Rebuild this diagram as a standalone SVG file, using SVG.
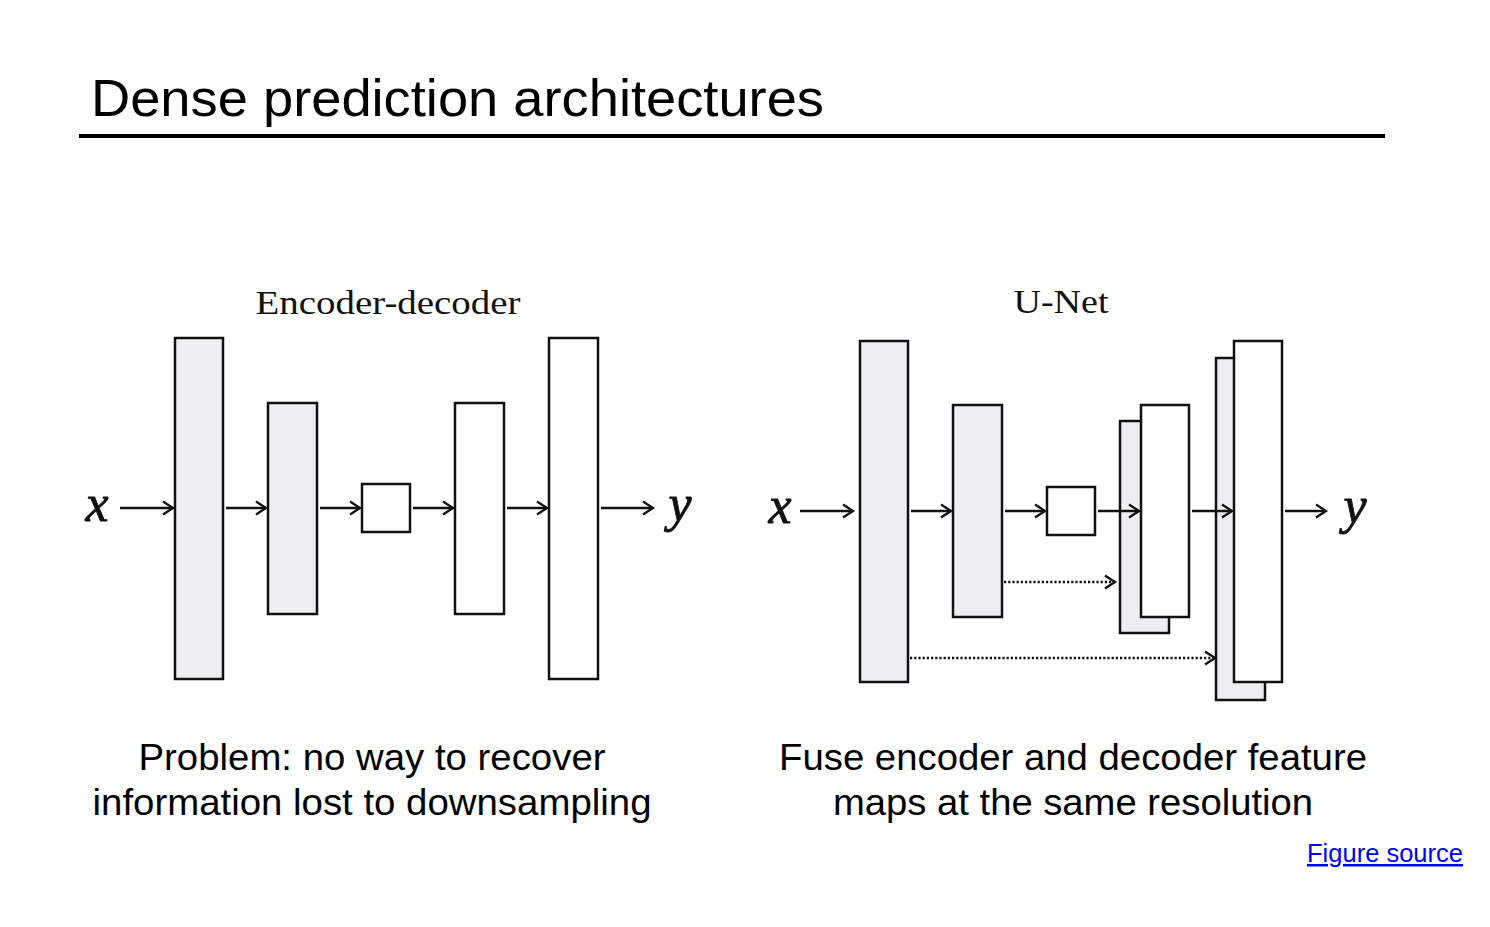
<svg xmlns="http://www.w3.org/2000/svg" width="1490" height="927" viewBox="0 0 1490 927">
<defs>
<marker id="ah" markerWidth="16" markerHeight="16" refX="13" refY="8" orient="auto" markerUnits="userSpaceOnUse">
<path d="M3,1.5 L13,8 L3,14.5" fill="none" stroke="#111" stroke-width="2.3"/>
</marker>
</defs>
<style>
.g{fill:#eeeef0;stroke:#111;stroke-width:2.5}
.w{fill:#fff;stroke:#111;stroke-width:2.5}
.a{stroke:#111;stroke-width:2.3;fill:none;marker-end:url(#ah)}
.d{stroke:#111;stroke-width:2.5;fill:none;stroke-dasharray:2.2 2;marker-end:url(#ah)}
.cap{font-family:"Liberation Sans",Arial,sans-serif;font-size:36px;fill:#000;text-anchor:middle}
.ser{font-family:"Liberation Serif","DejaVu Serif",serif;font-size:34px;fill:#111;text-anchor:middle}
.m{font-family:"Liberation Serif","DejaVu Serif",serif;font-style:italic;font-size:52px;fill:#111;stroke:#111;stroke-width:0.8;text-anchor:middle}
</style>
<rect width="1490" height="927" fill="#fff"/>
<text x="91" y="116" font-family="Liberation Sans, Arial, sans-serif" font-size="52" textLength="733" lengthAdjust="spacingAndGlyphs">Dense prediction architectures</text>
<rect x="79" y="134" width="1306" height="4" fill="#000"/>

<g id="title-ed"><text class="ser" x="388" y="314" textLength="265" lengthAdjust="spacingAndGlyphs">Encoder-decoder</text></g>
<g id="title-unet"><text class="ser" x="1061" y="313" textLength="95" lengthAdjust="spacingAndGlyphs">U-Net</text></g>

<g id="ed-x"><text class="m" x="97" y="521">x</text></g>
<g id="ed-y"><text class="m" x="680" y="521">y</text></g>
<g id="ed-enc1"><rect class="g" x="175" y="338" width="48" height="341"/></g>
<g id="ed-enc2"><rect class="g" x="268" y="403" width="49" height="211"/></g>
<g id="ed-bottle"><rect class="w" x="362" y="484" width="48" height="48"/></g>
<g id="ed-dec1"><rect class="w" x="455" y="403" width="49" height="211"/></g>
<g id="ed-dec2"><rect class="w" x="549" y="338" width="49" height="341"/></g>

<g id="un-x"><text class="m" x="780" y="523">x</text></g>
<g id="un-y"><text class="m" x="1355" y="523">y</text></g>
<g id="un-enc1"><rect class="g" x="860" y="341" width="48" height="341"/></g>
<g id="un-enc2"><rect class="g" x="953" y="405" width="49" height="212"/></g>
<g id="un-bottle"><rect class="w" x="1047" y="487" width="48" height="48"/></g>
<g id="un-dec1"><rect class="g" x="1120" y="421" width="49" height="212"/><rect class="w" x="1141" y="405" width="48" height="212"/></g>
<g id="un-dec2"><rect class="g" x="1216" y="358" width="49" height="342"/><rect class="w" x="1234" y="341" width="48" height="341"/></g>

<g id="connectors">
<line class="a" x1="120" y1="508" x2="173" y2="508"/>
<line class="a" x1="226" y1="508" x2="266" y2="508"/>
<line class="a" x1="320" y1="508" x2="360" y2="508"/>
<line class="a" x1="413" y1="508" x2="453" y2="508"/>
<line class="a" x1="507" y1="508" x2="547" y2="508"/>
<line class="a" x1="601" y1="508" x2="653" y2="508"/>

<line class="a" x1="800" y1="511" x2="853" y2="511"/>
<line class="a" x1="911" y1="511" x2="951" y2="511"/>
<line class="a" x1="1005" y1="511" x2="1045" y2="511"/>
<line class="a" x1="1098" y1="511" x2="1139" y2="511"/>
<line class="a" x1="1192" y1="511" x2="1232" y2="511"/>
<line class="a" x1="1285" y1="511" x2="1326" y2="511"/>
<line class="d" x1="1004" y1="582" x2="1115" y2="582"/>
<line class="d" x1="910" y1="658" x2="1215" y2="658"/>
</g>

<text class="cap" x="372" y="770" textLength="467" lengthAdjust="spacingAndGlyphs">Problem: no way to recover</text>
<text class="cap" x="372" y="815" textLength="559" lengthAdjust="spacingAndGlyphs">information lost to downsampling</text>
<text class="cap" x="1073" y="770" textLength="588" lengthAdjust="spacingAndGlyphs">Fuse encoder and decoder feature</text>
<text class="cap" x="1073" y="815" textLength="480" lengthAdjust="spacingAndGlyphs">maps at the same resolution</text>

<text x="1307" y="862" font-family="Liberation Sans, Arial, sans-serif" font-size="25" fill="#0000ee" text-decoration="underline" textLength="156" lengthAdjust="spacingAndGlyphs">Figure source</text>
</svg>
